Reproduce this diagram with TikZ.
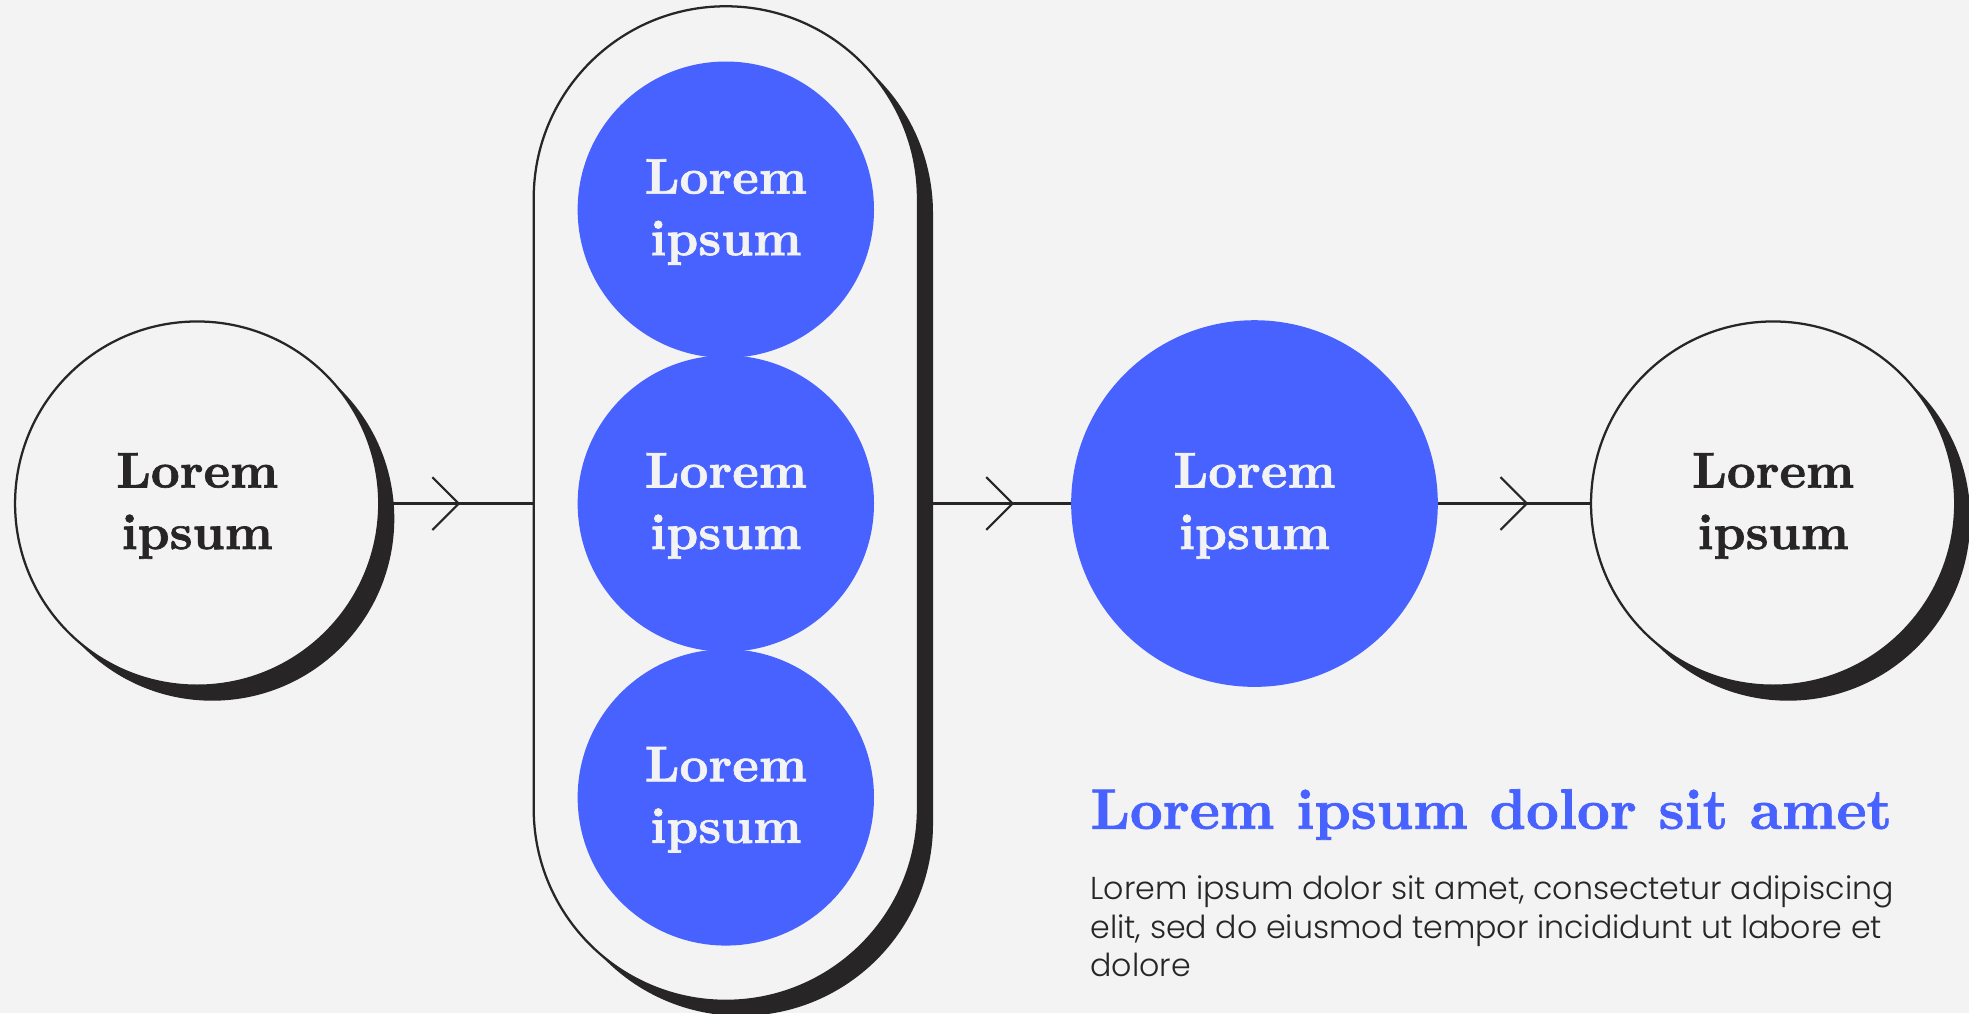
\documentclass[tikz,border=0pt]{standalone}
\usepackage{fontspec}
\newfontfamily\bodyfont{Poppins Light}
\newfontfamily\headfont{lmroman10-bold}[Extension=.otf, FakeBold=1.3]
\usetikzlibrary{positioning, shadows, arrows.meta, decorations.markings}

\definecolor{bg}{HTML}{F3F3F3}
\definecolor{ink}{HTML}{272525}
\definecolor{blu}{HTML}{4762FF}

\tikzset{
  shade/.style={drop shadow={shadow xshift=6pt, shadow yshift=-6pt, fill=ink, opacity=1}},
  ring/.style={circle, draw=ink, line width=0.9pt, fill=bg, minimum size=145pt, inner sep=0pt, text=ink, shade},
  dot/.style={circle, fill=blu, inner sep=0pt, text=bg},
  lab/.style={align=center, text depth=2pt, font=\headfont\fontsize{20}{24.5}\selectfont},
  chev/.style={line width=0.85pt, draw=ink, postaction={decorate},
    decoration={markings, mark=at position -#1 with {\arrow{Straight Barb[length=10.5pt, width=21pt, line width=0.85pt]}}}},
}

\begin{document}
\begin{tikzpicture}[x=0.5pt, y=-0.5pt]
        % Background
        \fill[bg] (0,0) rectangle (1568,807);
        \useasboundingbox (0,0) rectangle (1568,807);
        % Draw the nodes
        \node[ring, lab] at (157, 401)          (a)  {Lorem\\ipsum};
        \node[draw=ink, line width=0.9pt, fill=bg, shade,
              minimum width=153pt, minimum height=396pt,
              rounded corners=76.5pt] at (578, 401) (b) {};
        \node[dot, lab, minimum size=118pt] at (578, 167) (b1) {Lorem\\ipsum};
        \node[dot, lab, minimum size=118pt] at (578, 401) (b2) {Lorem\\ipsum};
        \node[dot, lab, minimum size=118pt] at (578, 635) (b3) {Lorem\\ipsum};
        \node[dot, lab, minimum size=146pt] at (999, 401) (c)  {Lorem\\ipsum};
        \node[ring, lab] at (1412, 401)         (d)  {Lorem\\ipsum};
        % Connect the nodes
        \draw[chev=28.8pt] (a) -- (b);
        \draw[chev=22.5pt] (b) -- (c);
        \draw[chev=24.5pt] (c) -- (d);
        % Caption
        \node[anchor=base west, inner sep=0pt, text=blu,
              font=\headfont\fontsize{22.7}{27}\selectfont] at (868, 660) (t) {Lorem ipsum dolor sit amet};
        \node[anchor=base west, inner sep=0pt, text=ink, align=left,
              font=\bodyfont\fontsize{12.6}{15.4}\selectfont] at (868, 778) (s)
              {Lorem ipsum dolor sit amet, consectetur adipiscing\\elit, sed do eiusmod tempor incididunt ut labore et\\dolore};
\end{tikzpicture}
\end{document}
